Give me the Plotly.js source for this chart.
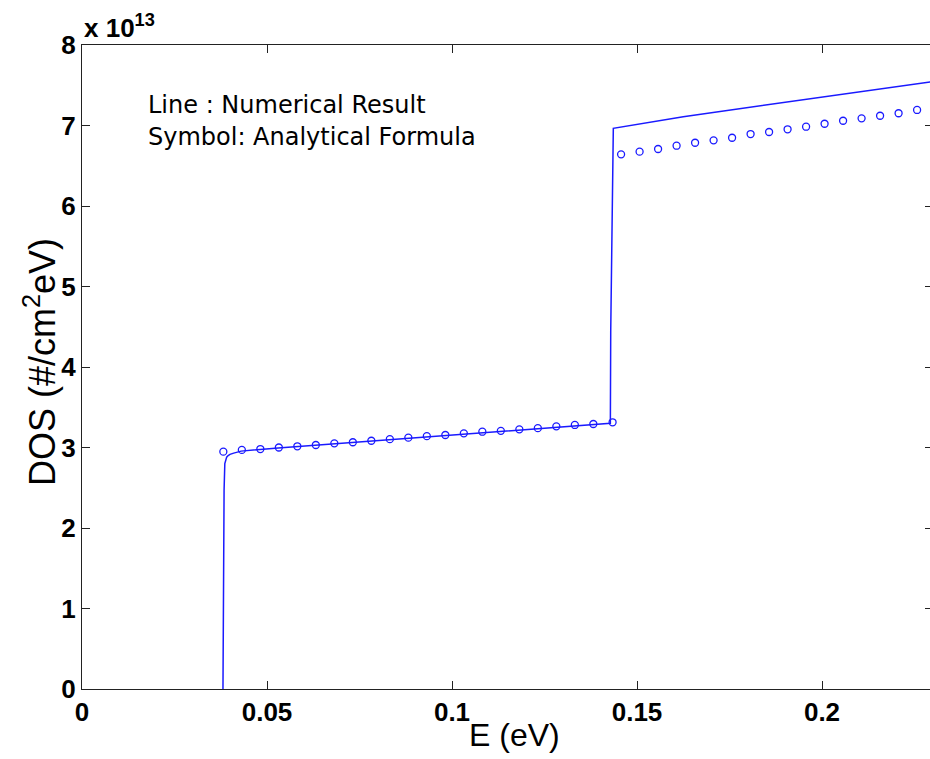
<!DOCTYPE html>
<html>
<head>
<meta charset="utf-8">
<script src="https://cdn.plot.ly/plotly-3.0.1.min.js"></script>
<style>html,body{margin:0;padding:0;overflow:hidden;background:#fff;}#chart{width:933px;height:759px;}</style>
</head>
<body>
<div id="chart"></div>
<script>
// Numerical result (line)
const lineE = [0.0381, 0.0382, 0.0384, 0.0386, 0.0388, 0.0391, 0.0395, 0.0400, 0.0410, 0.0430, 0.0530, 0.0630, 0.0730, 0.0830, 0.0930, 0.1030, 0.1130, 0.1230, 0.1330, 0.1428,
               0.1429, 0.1432, 0.1434, 0.1436, 0.1625, 0.1823, 0.2041, 0.2300];
const lineDOS = [0, 2.45, 2.47, 2.80, 2.85, 2.88, 2.90, 2.915, 2.93, 2.955, 2.995, 3.03, 3.065, 3.10, 3.135, 3.17, 3.205, 3.24, 3.27, 3.30,
                 4.45, 5.5, 6.62, 6.965, 7.11, 7.24, 7.38, 7.545];
// Analytical formula (symbols)
const symE = [0.0382, 0.0432, 0.0482, 0.0532, 0.0582, 0.0632, 0.0682, 0.0732, 0.0782, 0.0832, 0.0882, 0.0932, 0.0982, 0.1032, 0.1082, 0.1132, 0.1182, 0.1232, 0.1282, 0.1332, 0.1382, 0.1434,
              0.1457, 0.1507, 0.1557, 0.1607, 0.1657, 0.1707, 0.1757, 0.1807, 0.1857, 0.1907, 0.1957, 0.2007, 0.2057, 0.2107, 0.2157, 0.2207, 0.2257];
const symDOS = [2.948, 2.970, 2.981, 3.000, 3.015, 3.031, 3.052, 3.065, 3.084, 3.104, 3.122, 3.141, 3.155, 3.176, 3.196, 3.207, 3.226, 3.240, 3.263, 3.280, 3.292, 3.313,
                6.642, 6.675, 6.708, 6.749, 6.786, 6.816, 6.848, 6.894, 6.919, 6.953, 6.985, 7.022, 7.059, 7.089, 7.121, 7.152, 7.193];
const xTicks = [0, 0.05, 0.1, 0.15, 0.2];
const xTickText = ['0', '0.05', '0.1', '0.15', '0.2'];
const yTicks = [0, 1, 2, 3, 4, 5, 6, 7, 8];
const yTickText = ['0', '1', '2', '3', '4', '5', '6', '7', '8'];

const tickFont = {family: '"Liberation Sans Narrow", "Arial Narrow", "Liberation Sans", Arial, sans-serif', size: 26, color: '#000', weight: 'bold'};
const titleFont = {family: '"Liberation Sans", Arial, sans-serif', size: 36, color: '#000'};
const noteFont = {family: '"DejaVu Sans", sans-serif', size: 24, color: '#000'};

const traces = [
  {x: lineE, y: lineDOS, mode: 'lines', type: 'scatter', line: {color: '#1a1aff', width: 1.5}, hoverinfo: 'skip'},
  {x: symE, y: symDOS, mode: 'markers', type: 'scatter', marker: {symbol: 'circle-open', size: 7, color: '#1a1aff', line: {width: 1.3, color: '#1a1aff'}}, hoverinfo: 'skip'}
];

const layout = {
  width: 933, height: 759,
  margin: {l: 82, r: 0, t: 45, b: 70},
  paper_bgcolor: '#fff', plot_bgcolor: '#fff',
  showlegend: false,
  xaxis: {
    range: [0, 0.23], tickvals: xTicks, ticktext: xTickText,
    ticks: 'inside', ticklen: 8, tickcolor: '#222', tickwidth: 1,
    showline: true, linecolor: '#222', linewidth: 1, mirror: 'ticks',
    showgrid: false, zeroline: false, tickfont: tickFont
  },
  yaxis: {
    range: [0, 8], tickvals: yTicks, ticktext: yTickText,
    ticks: 'inside', ticklen: 8, tickcolor: '#222', tickwidth: 1,
    showline: true, linecolor: '#222', linewidth: 1, mirror: 'ticks',
    showgrid: false, zeroline: false, tickfont: tickFont
  },
  annotations: [
    {xref: 'paper', yref: 'paper', x: (514-82)/851, y: (689-735)/644, xanchor: 'center', yanchor: 'middle',
     text: 'E (eV)', showarrow: false, font: {family: '"Liberation Sans", Arial, sans-serif', size: 32, color: '#000'}},
    {xref: 'paper', yref: 'paper', x: (40-82)/851, y: (689-362)/644, xanchor: 'center', yanchor: 'middle', textangle: -90,
     text: 'DOS (#/cm<sup>2</sup>eV)', showarrow: false, font: titleFont},
    {xref: 'paper', yref: 'paper', x: 0, y: (689-26)/644, xanchor: 'left', yanchor: 'middle',
     text: 'x 10<sup>13</sup>', showarrow: false, font: tickFont},
    {xref: 'paper', yref: 'paper', x: (146-82)/851, y: (689-105)/644, xanchor: 'left', yanchor: 'middle',
     text: 'Line : Numerical Result', showarrow: false, font: noteFont},
    {xref: 'paper', yref: 'paper', x: (146-82)/851, y: (689-137)/644, xanchor: 'left', yanchor: 'middle',
     text: 'Symbol: Analytical Formula', showarrow: false, font: noteFont}
  ]
};

Plotly.newPlot('chart', traces, layout, {staticPlot: true, displayModeBar: false});
</script>
</body>
</html>
